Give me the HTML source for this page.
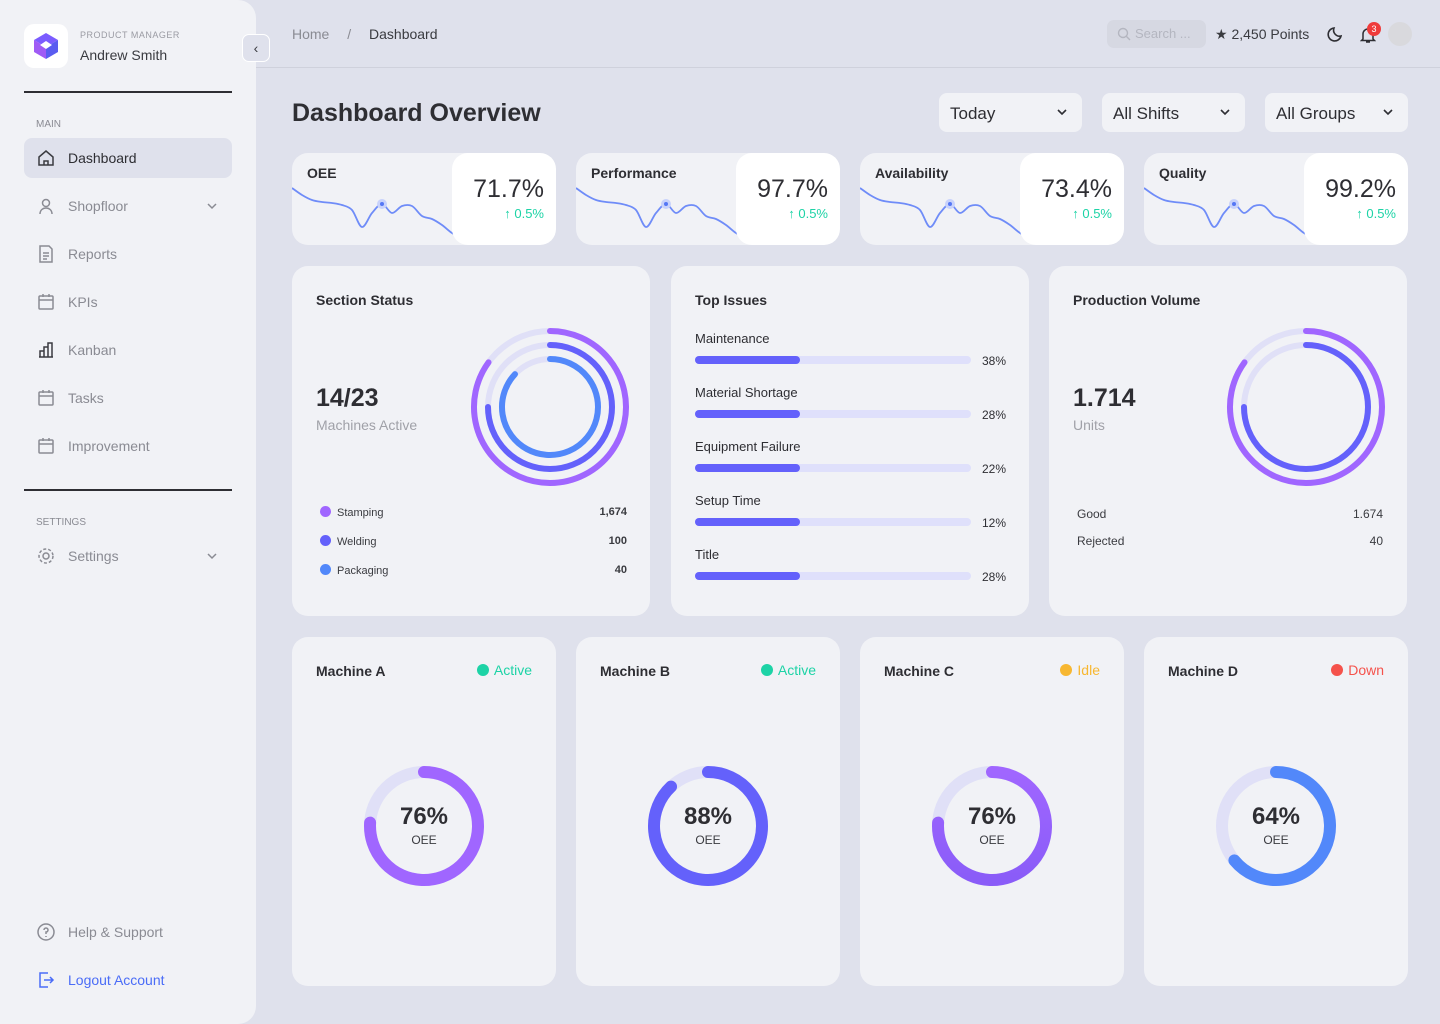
<!DOCTYPE html>
<html><head><meta charset="utf-8">
<style>
*{box-sizing:border-box;margin:0;padding:0}
body{width:1440px;height:1024px;background:#dfe1ec;font-family:"Liberation Sans",sans-serif;color:#2e2e33;position:relative;overflow:hidden}
.abs{position:absolute}
.side{left:0;top:0;width:256px;height:1024px;background:#f1f2f6;border-radius:0 18px 18px 0}
.nav{position:absolute;left:24px;width:208px;height:40px;border-radius:8px;display:flex;align-items:center;padding-left:44px;font-size:14px;color:#8a8b93}
.nav svg{position:absolute;left:13px;top:11px}
.card{position:absolute;background:#f1f2f6;border-radius:16px}
.drop{position:absolute;top:93px;height:39px;background:#f1f2f6;border-radius:8px;font-size:17px;color:#2e2e33;padding:11px 0 0 11px}
.drop svg{position:absolute;right:14px;top:15px}
.ct{position:absolute;left:24px;top:26px;font-size:14px;font-weight:bold;color:#2e2e33}
.kpi .lbl{position:absolute;left:15px;top:12px;font-size:14px;font-weight:bold}
.kpi .box{position:absolute;left:160px;top:0;width:104px;height:92px;background:#fff;border-radius:16px}
.kpi .val{position:absolute;right:12px;top:22px;font-size:25px;color:#2e2e33}
.kpi .chg{position:absolute;right:12px;top:53px;font-size:13px;color:#1dd3a6}
</style></head><body>
<div class="abs side">
  <div class="abs" style="left:24px;top:24px;width:44px;height:44px;background:#fff;border-radius:10px">
    <svg width="44" height="44" viewBox="0 0 44 44"><polygon points="22,9 34,16 22,23 10,16" fill="#7b5cff"/><polygon points="10,16 22,23 22,35 10,28" fill="#a05bf5"/><polygon points="34,16 34,28 22,35 22,23" fill="#5a5cf0"/><polygon points="22,17 28,21 22,25 16,21" fill="#fff"/></svg>
  </div>
  <div class="abs" style="left:80px;top:30px;font-size:9px;color:#9a9ba3;letter-spacing:.5px">PRODUCT MANAGER</div>
  <div class="abs" style="left:80px;top:47px;font-size:14px;color:#3a3b40">Andrew Smith</div>
  <div class="abs" style="left:24px;top:91px;width:208px;height:2px;background:#2e2e33"></div>
  <div class="abs" style="left:36px;top:119px;font-size:10px;color:#8a8b93">MAIN</div>
  <div class="nav" style="top:138px;background:#dfe1ec;color:#2e2e33"><svg width="18" height="18" viewBox="0 0 18 18" fill="none" stroke="#3a3b40" stroke-width="1.5"><path d="M2 8 9 2 16 8V16H2Z"/><path d="M7 16V12H11V16"/></svg>Dashboard</div>
  <div class="nav" style="top:186px"><svg width="18" height="18" viewBox="0 0 18 18" fill="none" stroke="#8a8b93" stroke-width="1.5"><circle cx="9" cy="6" r="3.5"/><path d="M3 17c0-4 3-6 6-6s6 2 6 6"/></svg>Shopfloor<svg style="left:auto;right:14px;top:16px" width="12" height="8" viewBox="0 0 12 8" fill="none" stroke="#8a8b93" stroke-width="1.5"><path d="M2 2 6 6 10 2"/></svg></div>
  <div class="nav" style="top:234px"><svg width="18" height="18" viewBox="0 0 18 18" fill="none" stroke="#8a8b93" stroke-width="1.5"><path d="M3 1H12L15 4V17H3Z"/><path d="M6 8H12M6 11H12M6 14H10"/></svg>Reports</div>
  <div class="nav" style="top:282px"><svg width="18" height="18" viewBox="0 0 18 18" fill="none" stroke="#8a8b93" stroke-width="1.5"><rect x="2" y="3" width="14" height="13" rx="1"/><path d="M2 7H16M6 1V4M12 1V4"/></svg>KPIs</div>
  <div class="nav" style="top:330px"><svg width="18" height="18" viewBox="0 0 18 18" fill="none" stroke="#3a3b40" stroke-width="1.5"><path d="M2 16H16M3 16V10H7V16M7 16V6H11V16M11 16V2H15V16"/></svg>Kanban</div>
  <div class="nav" style="top:378px"><svg width="18" height="18" viewBox="0 0 18 18" fill="none" stroke="#8a8b93" stroke-width="1.5"><rect x="2" y="3" width="14" height="13" rx="1"/><path d="M2 7H16M6 1V4M12 1V4"/></svg>Tasks</div>
  <div class="nav" style="top:426px"><svg width="18" height="18" viewBox="0 0 18 18" fill="none" stroke="#8a8b93" stroke-width="1.5"><rect x="2" y="3" width="14" height="13" rx="1"/><path d="M2 7H16M6 1V4M12 1V4"/></svg>Improvement</div>
  <div class="abs" style="left:24px;top:489px;width:208px;height:2px;background:#2e2e33"></div>
  <div class="abs" style="left:36px;top:517px;font-size:10px;color:#8a8b93">SETTINGS</div>
  <div class="nav" style="top:536px"><svg width="18" height="18" viewBox="0 0 18 18" fill="none" stroke="#8a8b93" stroke-width="1.5"><circle cx="9" cy="9" r="3"/><circle cx="9" cy="9" r="7" stroke-dasharray="3 2"/></svg>Settings<svg style="left:auto;right:14px;top:16px" width="12" height="8" viewBox="0 0 12 8" fill="none" stroke="#8a8b93" stroke-width="1.5"><path d="M2 2 6 6 10 2"/></svg></div>
  <div class="nav" style="top:912px"><svg width="18" height="18" viewBox="0 0 18 18" fill="none" stroke="#8a8b93" stroke-width="1.5"><circle cx="9" cy="9" r="8"/><path d="M7 7a2 2 0 1 1 2 2v2M9 13v1"/></svg>Help &amp; Support</div>
  <div class="nav" style="top:960px;color:#4a6cf7"><svg width="18" height="18" viewBox="0 0 18 18" fill="none" stroke="#4a6cf7" stroke-width="1.5"><path d="M11 2H3V16H11M7 9H16M13 6 16 9 13 12"/></svg>Logout Account</div>
</div>
<div class="abs" style="left:242px;top:34px;width:28px;height:28px;background:#dfe1ec;border:1px solid #fff;border-radius:7px;text-align:center;line-height:26px;font-size:14px;color:#3a3b40">‹</div>

<div class="abs" style="left:292px;top:26px;font-size:14px;color:#8a8b93">Home <span style="margin:0 14px">/</span> <span style="color:#3a3b40">Dashboard</span></div>
<div class="abs" style="left:1107px;top:20px;width:99px;height:28px;background:#d6d8e2;border-radius:7px;font-size:13px;color:#b4b6c0;padding:6px 0 0 28px"><svg class="abs" style="left:10px;top:7px" width="14" height="14" viewBox="0 0 14 14" fill="none" stroke="#b4b6c0" stroke-width="1.4"><circle cx="6" cy="6" r="4.5"/><path d="M9.5 9.5 13 13"/></svg>Search ...</div>
<div class="abs" style="left:1215px;top:26px;font-size:14px;color:#3a3b40">★ 2,450 Points</div>
<svg class="abs" style="left:1327px;top:25px" width="18" height="18" viewBox="0 0 18 18"><path d="M14 11A6 6 0 0 1 7 3 6.5 6.5 0 1 0 14 11Z" fill="none" stroke="#2e2e33" stroke-width="1.6"/></svg>
<svg class="abs" style="left:1360px;top:26px" width="16" height="18" viewBox="0 0 16 18"><path d="M3 13V8a5 5 0 0 1 10 0v5l1.5 1.5H1.5Z M6 16h4" fill="none" stroke="#2e2e33" stroke-width="1.5"/></svg>
<div class="abs" style="left:1367px;top:22px;width:14px;height:14px;border-radius:7px;background:#ef3b3b;color:#fff;font-size:9px;text-align:center;line-height:14px">3</div>
<div class="abs" style="left:1388px;top:22px;width:24px;height:24px;border-radius:12px;background:#d9d9dd"></div>
<div class="abs" style="left:256px;top:67px;width:1184px;height:1px;background:#cfd1dc"></div>

<div class="abs" style="left:292px;top:99px;font-size:25px;font-weight:bold;color:#2e2e33">Dashboard Overview</div>
<div class="drop" style="left:939px;width:143px">Today<svg width="12" height="8" viewBox="0 0 12 8" fill="none" stroke="#2e2e33" stroke-width="1.6"><path d="M2 2 6 6 10 2"/></svg></div>
<div class="drop" style="left:1102px;width:143px">All Shifts<svg width="12" height="8" viewBox="0 0 12 8" fill="none" stroke="#2e2e33" stroke-width="1.6"><path d="M2 2 6 6 10 2"/></svg></div>
<div class="drop" style="left:1265px;width:143px">All Groups<svg width="12" height="8" viewBox="0 0 12 8" fill="none" stroke="#2e2e33" stroke-width="1.6"><path d="M2 2 6 6 10 2"/></svg></div>

<div id="kpis"></div>

<div class="card" style="left:292px;top:266px;width:358px;height:350px">
  <div class="ct">Section Status</div>
  <div class="abs" style="left:24px;top:118px;font-size:25px;font-weight:bold;color:#2e2e33">14/23</div>
  <div class="abs" style="left:24px;top:151px;font-size:14px;color:#a0a1a8">Machines Active</div>
  <svg id="secRings" class="abs" style="left:0;top:0" width="358" height="350"></svg>
  <div id="secLegend"></div>
</div>

<div class="card" style="left:671px;top:266px;width:358px;height:350px">
  <div class="ct">Top Issues</div>
  <div id="issues"></div>
</div>

<div class="card" style="left:1049px;top:266px;width:358px;height:350px">
  <div class="ct">Production Volume</div>
  <div class="abs" style="left:24px;top:118px;font-size:25px;font-weight:bold;color:#2e2e33">1.714</div>
  <div class="abs" style="left:24px;top:151px;font-size:14px;color:#a0a1a8">Units</div>
  <svg id="prodRings" class="abs" style="left:0;top:0" width="358" height="350"></svg>
  <div class="abs" style="left:28px;top:241px;font-size:12px;color:#3a3b40">Good</div>
  <div class="abs" style="right:24px;top:241px;font-size:12px;color:#3a3b40">1.674</div>
  <div class="abs" style="left:28px;top:268px;font-size:12px;color:#3a3b40">Rejected</div>
  <div class="abs" style="right:24px;top:268px;font-size:12px;color:#3a3b40">40</div>
</div>

<div id="machines"></div>

<script>
const NS='http://www.w3.org/2000/svg';
// KPI data
const kpiNames=['OEE','Performance','Availability','Quality'];
const kpiValues=['71.7%','97.7%','73.4%','99.2%'];
const kpiChanges=['0.5%','0.5%','0.5%','0.5%'];
const sparkValues=[95,88,83,81,80,78,73,56,70,79,70,77,77,67,64,58,50,45];
const sparkHighlight=9;
// Section status
const sectionNames=['Stamping','Welding','Packaging'];
const sectionCounts=['1,674','100','40'];
const sectionPct=[85,75,87];
const sectionColors=['#a066ff','#6461fb','#5288fa'];
// Top issues
const issueNames=['Maintenance','Material Shortage','Equipment Failure','Setup Time','Title'];
const issueLabels=['38%','28%','22%','12%','28%'];
const issueFill=[38,38,38,38,38];
// Production volume
const prodPct=[85,75];
const prodColors=['#a066ff','#6461fb'];
// Machines
const machineNames=['Machine A','Machine B','Machine C','Machine D'];
const machineStatus=['Active','Active','Idle','Down'];
const machineOEE=[76,88,76,64];

const statusColor={Active:'#1dd3a6',Idle:'#f7b731',Down:'#f5524b'};
function arc(cx,cy,r,pct){
  if(pct>=100)pct=99.99;
  const a=pct/100*2*Math.PI;
  const x=cx+r*Math.sin(a),y=cy-r*Math.cos(a);
  return `M${cx} ${cy-r}A${r} ${r} 0 ${pct>50?1:0} 1 ${x.toFixed(2)} ${y.toFixed(2)}`;
}
function mk(tag,attrs){const e=document.createElementNS(NS,tag);for(const k in attrs)e.setAttribute(k,attrs[k]);return e;}

// KPIs
const kpis=document.getElementById('kpis');
kpiNames.forEach((n,i)=>{
  const d=document.createElement('div');
  d.className='card kpi';
  
  
  d.style.cssText=`left:${292+i*284}px;top:153px;width:264px;height:92px;overflow:hidden`;
  const sx=t=>t*(170/(sparkValues.length-1));
  const sy=v=>130-v;
  let pts=sparkValues.map((v,j)=>[sx(j),sy(v)]);
  let p=`M${pts[0][0]} ${pts[0][1]}`;
  for(let j=0;j<pts.length-1;j++){const p0=pts[Math.max(0,j-1)],p1=pts[j],p2=pts[j+1],p3=pts[Math.min(pts.length-1,j+2)];
    p+=`C${p1[0]+(p2[0]-p0[0])/6} ${p1[1]+(p2[1]-p0[1])/6} ${p2[0]-(p3[0]-p1[0])/6} ${p2[1]-(p3[1]-p1[1])/6} ${p2[0]} ${p2[1]}`;}
  const hp=pts[sparkHighlight];
  d.innerHTML=`<div class="lbl">${n}</div><svg class="abs" style="left:0;top:0" width="264" height="92"><path d="${p}" fill="none" stroke="#6f8cf8" stroke-width="1.8"/><circle cx="${hp[0]}" cy="${hp[1]}" r="5" fill="#c8d2fb"/><circle cx="${hp[0]}" cy="${hp[1]}" r="2" fill="#5577f5"/></svg><div class="box"></div><div class="val">${kpiValues[i]}</div><div class="chg">↑ ${kpiChanges[i]}</div>`;
  kpis.appendChild(d);
});

// section rings
const sr=document.getElementById('secRings');
const srR=[76,62,48];
sectionPct.forEach((v,i)=>{
  const t=mk('circle',{cx:258,cy:141,r:srR[i],fill:'none',stroke:'#e0e0f7','stroke-width':6});
  
  
  sr.appendChild(t);
  const a=mk('path',{d:arc(258,141,srR[i],v),fill:'none',stroke:sectionColors[i],'stroke-width':6,'stroke-linecap':'round'});
  
  
  sr.appendChild(a);
});
const sl=document.getElementById('secLegend');
sectionNames.forEach((n,i)=>{
  const d=document.createElement('div');
  
  
  d.style.cssText=`position:absolute;left:28px;top:${240+i*29}px;width:307px;font-size:11px;color:#3a3b40`;
  d.innerHTML=`<span style="display:inline-block;width:11px;height:11px;border-radius:6px;background:${sectionColors[i]};vertical-align:-1px;margin-right:6px"></span>${n}<span style="position:absolute;right:0;font-weight:bold">${sectionCounts[i]}</span>`;
  sl.appendChild(d);
});

// issues
const is=document.getElementById('issues');
issueNames.forEach((n,i)=>{
  const d=document.createElement('div');
  
  
  d.style.cssText=`position:absolute;left:24px;top:${65+i*54}px;width:311px;height:50px`;
  d.innerHTML=`<div style="font-size:13px;color:#2e2e33">${n}</div><div style="position:absolute;left:0;top:25px;width:276px;height:8px;border-radius:4px;background:#dfe0fb"><div style="width:${issueFill[i]}%;height:8px;border-radius:4px;background:#6461fb"></div></div><div style="position:absolute;right:0;top:23px;font-size:12px;color:#2e2e33">${issueLabels[i]}</div>`;
  is.appendChild(d);
});

// production rings
const pr=document.getElementById('prodRings');
const prR=[76,62];
prodPct.forEach((v,i)=>{
  const t=mk('circle',{cx:257,cy:141,r:prR[i],fill:'none',stroke:'#e0e0f7','stroke-width':6});
  
  
  pr.appendChild(t);
  const a=mk('path',{d:arc(257,141,prR[i],v),fill:'none',stroke:prodColors[i],'stroke-width':6,'stroke-linecap':'round'});
  
  
  pr.appendChild(a);
});

// machines
const mc=document.getElementById('machines');
const gaugeColors=['#a066ff','#6461fb','url(#gC)','#5288fa'];
machineNames.forEach((n,i)=>{
  const d=document.createElement('div');
  d.className='card';
  
  
  d.style.cssText=`left:${292+i*284}px;top:637px;width:264px;height:349px`;
  const sc=statusColor[machineStatus[i]];
  d.innerHTML=`<div class="ct">${n}</div><div style="position:absolute;right:24px;top:25px;font-size:14px;color:${sc}"><span style="display:inline-block;width:12px;height:12px;border-radius:6px;background:${sc};vertical-align:-1px;margin-right:5px"></span>${machineStatus[i]}</div>
  <svg class="abs" style="left:0;top:0" width="264" height="349"><defs><linearGradient id="gC" x1="0" y1="0" x2="0" y2="1"><stop offset="0" stop-color="#a066ff"/><stop offset="1" stop-color="#8a5cf8"/></linearGradient></defs>
  <circle cx="132" cy="189" r="54" fill="none" stroke="#e0e0f7" stroke-width="12"/>
  <path d="${arc(132,189,54,machineOEE[i])}" fill="none" stroke="${gaugeColors[i]}" stroke-width="12" stroke-linecap="round"/></svg>
  <div style="position:absolute;left:0;width:264px;top:166px;text-align:center;font-size:24px;font-weight:bold;color:#2e2e33">${machineOEE[i]}%</div>
  <div style="position:absolute;left:0;width:264px;top:196px;text-align:center;font-size:12px;color:#3a3b40">OEE</div>`;
  mc.appendChild(d);
});
</script>
</body></html>
